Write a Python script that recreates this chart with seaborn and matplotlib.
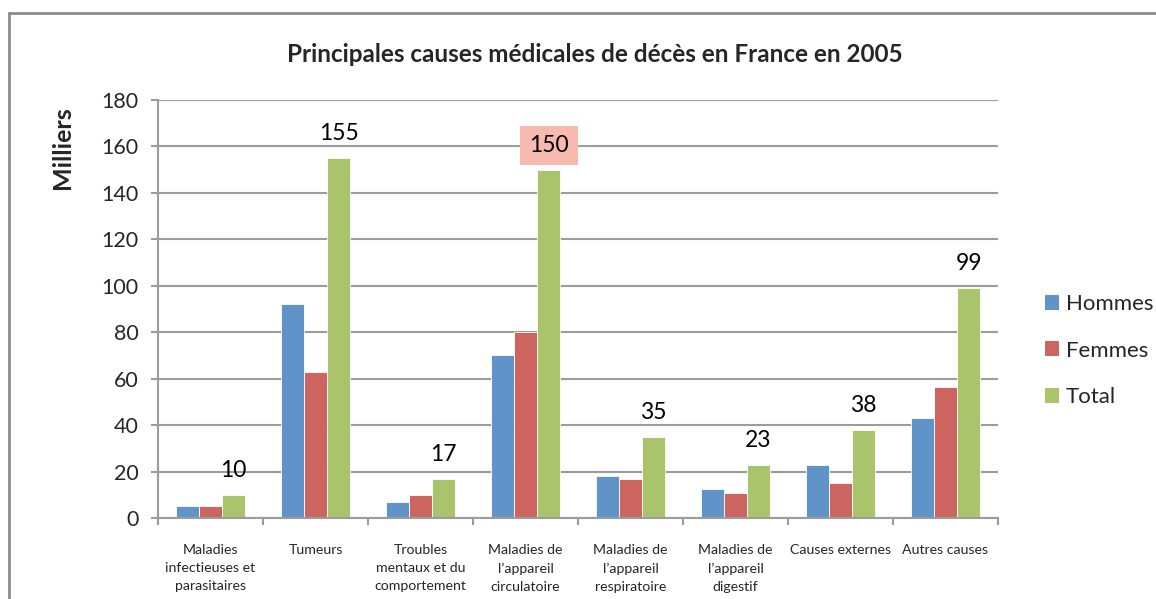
import matplotlib
matplotlib.use("Agg")
import matplotlib.pyplot as plt
from matplotlib.lines import Line2D
from matplotlib.patches import Patch
import numpy as np
import pandas as pd
import seaborn as sns

# data (milliers de décès)
causes = [
    "Maladies\ninfectieuses et\nparasitaires",
    "Tumeurs",
    "Troubles\nmentaux et du\ncomportement",
    "Maladies de\nl’appareil\ncirculatoire",
    "Maladies de\nl’appareil\nrespiratoire",
    "Maladies de\nl’appareil\ndigestif",
    "Causes externes",
    "Autres causes",
]
series = ["Hommes", "Femmes", "Total"]
hommes = [5, 92, 7, 70, 18, 12.5, 22.8, 43]
femmes = [5, 63, 10, 80, 17, 10.8, 15, 56.4]
total = [10, 155, 17, 150, 35, 23, 38, 99]
total_labels = ["10", "155", "17", "150", "35", "23", "38", "99"]
yticks = [0, 20, 40, 60, 80, 100, 120, 140, 160, 180]

colors = ["#6094C9", "#CC6560", "#AAC46B"]
grid_col = "#9C9C9C"

df = pd.DataFrame({
    "cause": causes * 3,
    "serie": np.repeat(series, len(causes)),
    "val": hommes + femmes + total,
})

sns.set_theme(style="white")
plt.rcParams["font.family"] = ["Lato", "DejaVu Sans"]

W, H = 1156, 599
fig = plt.figure(figsize=(W / 100, H / 100), dpi=100)
ax = fig.add_axes([158 / W, 1 - 518 / H, 840 / W, 418 / H])

sns.barplot(data=df, x="cause", y="val", hue="serie", palette=colors,
            width=0.66, saturation=1, ax=ax, legend=False,
            edgecolor="white", linewidth=0.6)

ax.set_xlim(-0.5, len(causes) - 0.5)
ax.set_ylim(0, 180)
ax.set_yticks(yticks)
ax.set_yticklabels([str(v) for v in yticks], fontsize=15.5)
ax.yaxis.grid(True, color=grid_col, linewidth=1.5)
ax.set_axisbelow(True)
ax.set_xlabel("")
ax.set_ylabel("")

ax.set_xticks(range(len(causes)))
ax.set_xticklabels(causes, fontsize=10.2, linespacing=1.6)
ax.set_xticks(np.arange(-0.5, len(causes), 1), minor=True)
ax.tick_params(axis="x", which="major", length=0, pad=19)
ax.tick_params(axis="x", which="minor", length=5, width=1.5, color=grid_col,
               direction="out", bottom=True)
ax.tick_params(axis="y", length=5, width=1.5, color=grid_col,
               direction="out", left=True, pad=9)

for s in ["top", "right"]:
    ax.spines[s].set_visible(False)
for s in ["left", "bottom"]:
    ax.spines[s].set_color(grid_col)
    ax.spines[s].set_linewidth(1.5)

# labels above the total bars
off = 0.66 / 3
for i, (v, lab) in enumerate(zip(total, total_labels)):
    kw = {}
    if lab == "150":
        kw["bbox"] = dict(boxstyle="square,pad=0.4", facecolor="#F8B9AE",
                          edgecolor="none")
    ax.annotate(lab, (i + off, v), xytext=(0, 10), textcoords="offset points",
                ha="center", va="bottom", fontsize=16.5, color="black", **kw)

fig.text(595 / W, 1 - 55 / H, "Principales causes médicales de décès en France en 2005",
         ha="center", va="center", fontsize=17.5, fontweight="bold")
fig.text(63 / W, 1 - 148 / H, "Milliers", rotation=90, ha="center", va="center",
         fontsize=18, fontweight="bold")

handles = [Patch(facecolor=c, edgecolor="none") for c in colors]
fig.legend(handles, series, loc="upper left", bbox_to_anchor=(1036 / W, 1 - 285 / H),
           frameon=False, fontsize=16, handlelength=0.65, handleheight=0.65,
           handletextpad=0.3, labelspacing=1.2, borderaxespad=0)

# outer chart frame (cut on right and bottom)
fig.add_artist(Line2D([9 / W, 9 / W], [0, 1 - 13 / H], transform=fig.transFigure,
                      color="#8C8C8C", linewidth=2))
fig.add_artist(Line2D([9 / W, 1], [1 - 13 / H, 1 - 13 / H], transform=fig.transFigure,
                      color="#8C8C8C", linewidth=2))

fig.savefig("out.png", dpi=100)
